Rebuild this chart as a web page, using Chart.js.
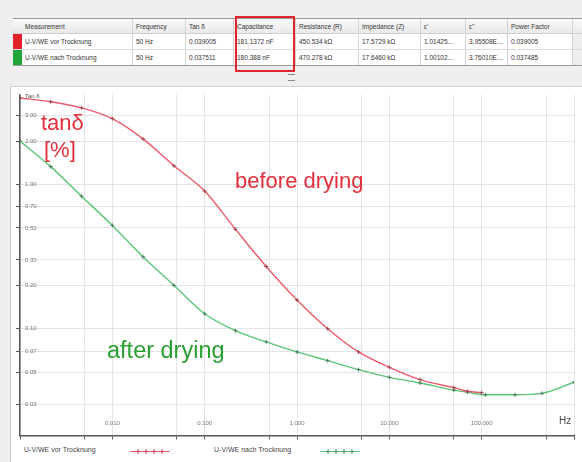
<!DOCTYPE html>
<html>
<head>
<meta charset="utf-8">
<script src="https://cdn.jsdelivr.net/npm/chart.js@4.4.1/dist/chart.umd.min.js"></script>
<style>
  html, body { margin: 0; padding: 0; }
  body { width: 582px; height: 462px; position: relative; overflow: hidden; background: #efefef;
         font-family: "Liberation Sans", Arial, sans-serif; }
  .tbl { position: absolute; left: 13px; top: 18px; width: 569px; height: 46px; background: #fff;
         border-top: 1px solid #9a9a9a; border-bottom: 1px solid #9a9a9a; }
  .row { position: absolute; left: 0; width: 569px; height: 15px; }
  .row.h { top: 0; background: linear-gradient(#fafafa, #e9e9e9); border-bottom: 1px solid #cfcfcf; height: 14px; }
  .row.r1 { top: 15px; border-bottom: 1px solid #dcdcdc; }
  .row.r2 { top: 31px; }
  .c { position: absolute; top: 0; height: 100%; font-size: 6.5px; line-height: 15px; color: #333;
       border-left: 1px solid #d4d4d4; padding-left: 3px; box-sizing: border-box; white-space: nowrap; overflow: hidden; }
  .sw { position: absolute; left: 0; width: 9px; height: 15px; }
  .redbox { position: absolute; left: 235px; top: 16px; width: 60px; height: 56px; border: 2px solid #e2242f;
            box-sizing: border-box; }
  .grip { position: absolute; left: 288px; top: 74px; width: 7px; height: 5px; border-top: 1px solid #888;
          border-bottom: 1px solid #888; }
  .panel { position: absolute; left: 10px; top: 86px; width: 572px; height: 376px; background: #fff;
           border-top: 1px solid #d0d0d0; border-left: 1px solid #d0d0d0; }
  #wrap { position: absolute; left: 10px; top: 86px; width: 572px; height: 358px; }
  .lbl { position: absolute; white-space: nowrap; }
  .legend { position: absolute; top: 446px; font-size: 7px; color: #444; }
</style>
</head>
<body>
<div class="tbl">
  <div class="row h">
    <div class="c" style="left:0;width:119px;padding-left:12px;border-left:none">Measurement</div>
    <div class="c" style="left:119px;width:53px">Frequency</div>
    <div class="c" style="left:172px;width:48px">Tan δ</div>
    <div class="c" style="left:220px;width:62px">Capacitance</div>
    <div class="c" style="left:282px;width:63px">Resistance (R)</div>
    <div class="c" style="left:345px;width:62px">Impedance (Z)</div>
    <div class="c" style="left:407px;width:45px">ε'</div>
    <div class="c" style="left:452px;width:42px">ε''</div>
    <div class="c" style="left:494px;width:65px">Power Factor</div>
    <div class="c" style="left:559px;width:10px"></div>
  </div>
  <div class="row r1">
    <div class="sw" style="background:#e0212a"></div>
    <div class="c" style="left:9px;width:110px;border-left:none">U-V/WE vor Trocknung</div>
    <div class="c" style="left:119px;width:53px">50 Hz</div>
    <div class="c" style="left:172px;width:48px">0.039005</div>
    <div class="c" style="left:220px;width:62px">181.1372 nF</div>
    <div class="c" style="left:282px;width:63px">450.534 kΩ</div>
    <div class="c" style="left:345px;width:62px">17.5729 kΩ</div>
    <div class="c" style="left:407px;width:45px">1.01425...</div>
    <div class="c" style="left:452px;width:42px">3.95508E...</div>
    <div class="c" style="left:494px;width:65px">0.039005</div>
    <div class="c" style="left:559px;width:10px;background:#eee"></div>
  </div>
  <div class="row r2">
    <div class="sw" style="background:#1fa53a"></div>
    <div class="c" style="left:9px;width:110px;border-left:none">U-V/WE nach Trocknung</div>
    <div class="c" style="left:119px;width:53px">50 Hz</div>
    <div class="c" style="left:172px;width:48px">0.037511</div>
    <div class="c" style="left:220px;width:62px">180.388 nF</div>
    <div class="c" style="left:282px;width:63px">470.278 kΩ</div>
    <div class="c" style="left:345px;width:62px">17.6460 kΩ</div>
    <div class="c" style="left:407px;width:45px">1.00102...</div>
    <div class="c" style="left:452px;width:42px">3.76010E...</div>
    <div class="c" style="left:494px;width:65px">0.037485</div>
    <div class="c" style="left:559px;width:10px;background:#eee"></div>
  </div>
</div>
<div class="redbox"></div>
<div class="grip"></div>

<div class="panel"></div>
<div id="wrap"><canvas id="c" width="572" height="358"></canvas></div>

<div class="lbl" style="left:25px;top:93px;font-size:6px;color:#555">Tan δ</div>
<div class="lbl" style="left:559px;top:415px;font-size:10px;color:#444">Hz</div>

<div class="lbl" style="left:41px;top:110px;font-size:22px;color:#e2303c">tanδ</div>
<div class="lbl" style="left:44px;top:137px;font-size:22px;color:#e2303c">[%]</div>
<div class="lbl" style="left:235px;top:168px;font-size:22px;color:#e2303c">before drying</div>
<div class="lbl" style="left:107px;top:337px;font-size:23.5px;color:#2a9e32">after drying</div>

<div class="legend" style="left:24px">U-V/WE vor Trocknung</div>
<svg class="lbl" style="left:130px;top:447px" width="40" height="9">
  <line x1="0" y1="4.5" x2="40" y2="4.5" stroke="#ee6070" stroke-width="1"/>
  <g stroke="#d04050" stroke-width="1">
    <path d="M8 2v5M5.5 4.5h5M16 2v5M13.5 4.5h5M24 2v5M21.5 4.5h5M32 2v5M29.5 4.5h5"/>
  </g>
</svg>
<div class="legend" style="left:214px">U-V/WE nach Trocknung</div>
<svg class="lbl" style="left:320px;top:447px" width="40" height="9">
  <line x1="0" y1="4.5" x2="40" y2="4.5" stroke="#5cc878" stroke-width="1"/>
  <g stroke="#3a9a55" stroke-width="1">
    <path d="M8 2v5M5.5 4.5h5M16 2v5M13.5 4.5h5M24 2v5M21.5 4.5h5M32 2v5M29.5 4.5h5"/>
  </g>
</svg>

<script>
// Frequency sweep of the dissipation factor, before and after drying
const freqVor = [0.001, 0.00215, 0.00464, 0.01, 0.0215, 0.0464, 0.1, 0.215, 0.464, 1, 2.15, 4.64, 10, 21.5, 50, 70, 100];
const tanVor  = [3.98, 3.75, 3.4, 2.86, 2.07, 1.35, 0.90, 0.49, 0.27, 0.158, 0.100, 0.069, 0.054, 0.0444, 0.039005, 0.0368, 0.0360];

const freqNach = [0.001, 0.00215, 0.00464, 0.01, 0.0215, 0.0464, 0.1, 0.215, 0.464, 1, 2.15, 4.64, 10, 21.5, 50, 70, 110, 230, 450, 1000];
const tanNach  = [2.0, 1.33, 0.83, 0.52, 0.315, 0.20, 0.127, 0.097, 0.081, 0.069, 0.060, 0.052, 0.046, 0.042, 0.037511, 0.0363, 0.0348, 0.0348, 0.0356, 0.0425];

const xTickValues = [0.001, 0.005, 0.01, 0.05, 0.1, 0.5, 1, 5, 10, 50, 100, 500, 1000];
const xLabelled   = [0.01, 0.1, 1, 10, 100];
const yTickValues = [3, 2, 1, 0.7, 0.5, 0.3, 0.2, 0.1, 0.07, 0.05, 0.03];

const toPoints = (xs, ys) => xs.map((x, i) => ({ x, y: ys[i] }));

new Chart(document.getElementById('c'), {
  type: 'line',
  data: {
    datasets: [
      {
        label: 'U-V/WE vor Trocknung',
        data: toPoints(freqVor, tanVor),
        borderColor: '#ee5a6c',
        borderWidth: 1.4,
        pointStyle: 'cross',
        pointRadius: 2,
        pointBorderColor: '#9a4a52',
        pointBorderWidth: 1,
        cubicInterpolationMode: 'monotone',
        fill: false
      },
      {
        label: 'U-V/WE nach Trocknung',
        data: toPoints(freqNach, tanNach),
        borderColor: '#5cc678',
        borderWidth: 1.4,
        pointStyle: 'cross',
        pointRadius: 2,
        pointBorderColor: '#4f7f5c',
        pointBorderWidth: 1,
        cubicInterpolationMode: 'monotone',
        fill: false
      }
    ]
  },
  options: {
    responsive: false,
    animation: false,
    devicePixelRatio: 1,
    layout: { padding: { left: 0, right: 2, top: 4, bottom: 0 } },
    plugins: { legend: { display: false }, tooltip: { enabled: false } },
    scales: {
      x: {
        type: 'logarithmic',
        min: 0.001,
        max: 1000,
        afterBuildTicks: (s) => { s.ticks = xTickValues.map(v => ({ value: v })); },
        afterFit: (s) => { s.height = 7; },
        border: { color: '#555', width: 1.5 },
        grid: { color: '#e4e4e4', lineWidth: 1, tickLength: 4, tickColor: '#555' },
        ticks: {
          mirror: true,
          padding: 8,
          autoSkip: false,
          maxRotation: 0,
          color: '#777',
          font: { size: 6, family: 'Liberation Sans, Arial, sans-serif' },
          callback: (v) => xLabelled.some(l => Math.abs(l - v) / l < 1e-6) ? Number(v).toFixed(3) : ''
        }
      },
      y: {
        type: 'logarithmic',
        min: 0.0182,
        max: 4.2,
        afterBuildTicks: (s) => { s.ticks = yTickValues.map(v => ({ value: v })); },
        afterFit: (s) => { s.width = 10; },
        border: { color: '#555', width: 1.5 },
        grid: { color: '#e4e4e4', lineWidth: 1, tickLength: 4, tickColor: '#555' },
        ticks: {
          mirror: true,
          padding: 5,
          autoSkip: false,
          color: '#777',
          font: { size: 6, family: 'Liberation Sans, Arial, sans-serif' },
          callback: (v) => Number(v).toFixed(2)
        }
      }
    }
  }
});
</script>
</body>
</html>
